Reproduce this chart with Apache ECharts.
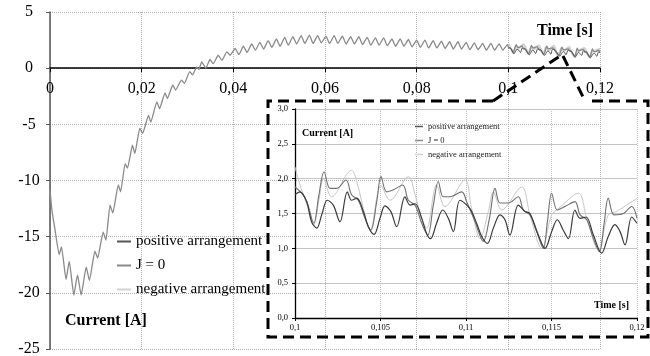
<!DOCTYPE html>
<html>
<head>
<meta charset="utf-8">
<script src="https://cdn.jsdelivr.net/npm/echarts@6/dist/echarts.min.js"></script>
<style>
html, body { margin: 0; padding: 0; background: #fff; }
#chart { width: 650px; height: 356px; }
</style>
</head>
<body>
<div id="chart"></div>
<script>
// series names, in legend order
var names = ['positive arrangement', 'J = 0', 'negative arrangement'];

// J = 0, start-up part (time [s], current [A])
var j0Start = [
    [0, -10.8], [0.0004, -12.6], [0.0011, -14.4], [0.002, -16.6], [0.0025, -15.9],
    [0.0035, -18.8], [0.0042, -17.2], [0.0052, -20.2], [0.006, -18.4], [0.0068, -20.2],
    [0.0079, -17.7], [0.0086, -18.9], [0.0098, -16.3], [0.0104, -16.9], [0.0116, -14.6],
    [0.0122, -15.3], [0.0131, -12.2], [0.0137, -12.9], [0.0149, -10.4], [0.0154, -11.0],
    [0.0164, -8.5], [0.0169, -8.9], [0.018, -6.85], [0.0185, -7.6], [0.0196, -5.35],
    [0.0202, -5.8], [0.0215, -4.2], [0.022, -4.8], [0.0233, -3.0], [0.0239, -3.6],
    [0.0251, -2.2], [0.0256, -2.7], [0.0268, -1.5], [0.0274, -1.95], [0.0287, -1.07],
    [0.0293, -1.35], [0.0305, -0.3], [0.0311, -0.6], [0.032, 0.1], [0.0325, -0.1],
    [0.0331, 0.56], [0.034, 0.0], [0.0349, 0.77], [0.0356, 0.4], [0.0367, 1.15],
    [0.0375, 0.7], [0.0386, 1.45], [0.0393, 1.15], [0.0404, 1.75], [0.0412, 1.2],
    [0.0422, 1.95], [0.043, 1.4], [0.044, 2.15], [0.0448, 1.6], [0.0458, 2.3],
    [0.0466, 1.7], [0.0476, 2.45], [0.0484, 1.85], [0.0494, 2.6], [0.0502, 1.95],
    [0.0512, 2.75], [0.052, 2.05], [0.053, 2.8], [0.0538, 2.15], [0.0548, 2.9],
    [0.0556, 2.2], [0.0566, 2.95], [0.0574, 2.2], [0.0584, 2.9], [0.0592, 2.25],
    [0.0602, 2.85], [0.061, 2.2], [0.062, 2.9], [0.0628, 2.2], [0.0638, 2.85],
    [0.0646, 2.15], [0.0656, 2.8], [0.0664, 2.15], [0.0674, 2.8], [0.0682, 2.1],
    [0.0692, 2.75], [0.07, 2.05], [0.071, 2.7], [0.0718, 2.05], [0.0728, 2.7],
    [0.0736, 2.0], [0.0746, 2.6], [0.0754, 1.95], [0.0764, 2.6], [0.0772, 1.95],
    [0.0782, 2.55], [0.079, 1.9], [0.08, 2.5], [0.0808, 1.85], [0.0818, 2.5],
    [0.0826, 1.8], [0.0836, 2.45], [0.0844, 1.8], [0.0854, 2.4], [0.0862, 1.75],
    [0.0872, 2.35], [0.088, 1.7], [0.089, 2.35], [0.0898, 1.7], [0.0908, 2.3],
    [0.0916, 1.65], [0.0926, 2.25], [0.0934, 1.65], [0.0944, 2.2], [0.0952, 1.6],
    [0.0962, 2.2], [0.097, 1.6], [0.098, 2.15], [0.0988, 1.6], [0.0998, 2.1]
];

// zoomed window 0.1 .. 0.12 s
var j0Zoom = [
    [0.1, 1.88], [0.1004, 1.79], [0.1007, 1.67], [0.1011, 1.36], [0.1014, 1.77],
    [0.1017, 2.1], [0.10205, 1.86], [0.10244, 1.86], [0.10298, 1.98], [0.10331, 1.77],
    [0.1037, 1.69], [0.10409, 1.43], [0.10443, 1.26], [0.10478, 1.67], [0.10503, 2.03],
    [0.10536, 1.81], [0.10575, 1.84], [0.1063, 1.91], [0.10663, 1.69], [0.10702, 1.62],
    [0.10741, 1.36], [0.10776, 1.19], [0.10809, 1.62], [0.10838, 1.96], [0.10867, 1.74],
    [0.10906, 1.74], [0.10975, 1.81], [0.11004, 1.67], [0.11053, 1.38], [0.11101, 1.10],
    [0.11137, 1.43], [0.1117, 1.86], [0.11199, 1.65], [0.11248, 1.65], [0.11306, 1.74],
    [0.11335, 1.55], [0.11374, 1.48], [0.11413, 1.24], [0.11452, 1.0], [0.11476, 1.38],
    [0.11501, 1.79], [0.11534, 1.55], [0.11579, 1.6], [0.11637, 1.67], [0.11667, 1.48],
    [0.11706, 1.41], [0.11745, 1.14], [0.1178, 0.95], [0.11807, 1.34], [0.11832, 1.72],
    [0.11866, 1.48], [0.1192, 1.5], [0.11969, 1.6], [0.12, 1.43]
];

var posZoom = [
    [0.1, 1.77], [0.10029, 1.81], [0.10068, 1.67], [0.10097, 1.38], [0.10127, 1.29],
    [0.10156, 1.48], [0.10189, 1.69], [0.10224, 1.62], [0.10263, 1.38], [0.10306, 1.81],
    [0.10331, 1.69], [0.10361, 1.72], [0.104, 1.53], [0.10429, 1.31], [0.10462, 1.2],
    [0.10497, 1.43], [0.10526, 1.61], [0.1056, 1.53], [0.10595, 1.31], [0.10643, 1.74],
    [0.10673, 1.62], [0.10702, 1.64], [0.10741, 1.43], [0.1077, 1.21], [0.10793, 1.14],
    [0.10828, 1.36], [0.10864, 1.55], [0.10897, 1.43], [0.10926, 1.24], [0.10965, 1.69],
    [0.11023, 1.57], [0.11062, 1.36], [0.11092, 1.17], [0.11125, 1.07], [0.1116, 1.29],
    [0.11199, 1.48], [0.11228, 1.41], [0.11257, 1.19], [0.11306, 1.62], [0.11345, 1.53],
    [0.11374, 1.50], [0.11423, 1.19], [0.11462, 1.0], [0.11501, 1.24], [0.11534, 1.41],
    [0.11569, 1.26], [0.11599, 1.14], [0.11637, 1.55], [0.11667, 1.43], [0.11702, 1.45],
    [0.11745, 1.19], [0.11793, 0.93], [0.11832, 1.17], [0.11871, 1.34], [0.11901, 1.24],
    [0.1193, 1.05], [0.11969, 1.45], [0.12, 1.36]
];

var negZoom = [
    [0.1, 2.17], [0.10029, 1.91], [0.10078, 1.57], [0.10107, 1.33], [0.10142, 1.72],
    [0.10166, 2.0], [0.10214, 1.74], [0.10331, 2.12], [0.10361, 1.96], [0.104, 1.57],
    [0.10439, 1.26], [0.10503, 1.9], [0.10556, 1.69], [0.10663, 2.03], [0.10702, 1.77],
    [0.10741, 1.43], [0.1077, 1.29], [0.10828, 1.91], [0.10877, 1.6], [0.10994, 1.98],
    [0.11033, 1.57], [0.11082, 1.14], [0.11131, 1.53], [0.1116, 1.81], [0.11209, 1.55],
    [0.11326, 1.88], [0.11374, 1.48], [0.11443, 1.0], [0.11501, 1.48], [0.1154, 1.57],
    [0.11657, 1.79], [0.11706, 1.43], [0.11774, 0.98], [0.11832, 1.48], [0.11881, 1.53],
    [0.12, 1.72]
];

var serif = 'Liberation Serif';

function commaNum(v, digits) {
    if (v === 0) return '0';
    return String(+v.toFixed(digits)).replace('.', ',');
}

function lineSeries(name, data, color, width, axis, smooth, z) {
    return {
        name: name,
        type: 'line',
        xAxisIndex: axis,
        yAxisIndex: axis,
        data: data,
        showSymbol: false,
        symbol: 'none',
        smooth: smooth,
        z: z,
        itemStyle: { color: color, borderWidth: 0 },
        lineStyle: { color: color, width: width }
    };
}

var myChart = echarts.init(document.getElementById('chart'), null, { renderer: 'canvas' });

// main plot is 12..349 px high for 5..-25, so the zero line sits at 12 + 337/6
var zeroY = 12 + 337 * 5 / 30;

var option = {
    animation: false,
    backgroundColor: '#fff',
    grid: [
        { left: 50, right: 50, top: 12, bottom: 7, outerBoundsMode: 'none', containLabel: false },
        { left: 295, right: 13, top: 109, bottom: 38, outerBoundsMode: 'none', containLabel: false },
        // helper grid whose bottom edge is the zero line: carries the time axis
        { left: 50, right: 50, top: 12, bottom: 356 - zeroY, outerBoundsMode: 'none', containLabel: false }
    ],
    xAxis: [
        {
            gridIndex: 0, type: 'value', min: 0, max: 0.12, interval: 0.02,
            axisLine: { show: false }, axisTick: { show: false }, axisLabel: { show: false },
            splitLine: { show: true, lineStyle: { color: '#b0b0b0', type: 'dotted', width: 1 } }
        },
        {
            gridIndex: 1, type: 'value', min: 0.1, max: 0.12, interval: 0.005,
            axisLine: { onZero: false, lineStyle: { color: '#000', width: 1.3 } },
            axisTick: { show: true, length: 3, lineStyle: { color: '#000' } },
            axisLabel: {
                fontFamily: serif, fontSize: 8.5, color: '#000', margin: 5,
                formatter: function (v) { return commaNum(v, 4); }
            },
            splitLine: { show: true, lineStyle: { color: '#c0c0c0', type: 'dotted', width: 1 } }
        },
        {
            gridIndex: 2, type: 'value', min: 0, max: 0.12, interval: 0.02,
            axisLine: { onZero: false, lineStyle: { color: '#000', width: 1.5 } },
            axisTick: { show: true, length: 4, lineStyle: { color: '#000' } },
            axisLabel: {
                fontFamily: serif, fontSize: 16, color: '#000', margin: 13,
                formatter: function (v) { return commaNum(v, 3); }
            },
            splitLine: { show: false }
        }
    ],
    yAxis: [
        {
            gridIndex: 0, type: 'value', min: -25, max: 5, interval: 5,
            axisLine: { show: true, onZero: false, lineStyle: { color: '#555', width: 1.5 } },
            axisTick: { show: true, length: 4, lineStyle: { color: '#555' } },
            axisLabel: { fontFamily: serif, fontSize: 16, color: '#000', margin: 21, align: 'center' },
            splitLine: { show: true, lineStyle: { color: '#b0b0b0', type: 'dotted', width: 1 } }
        },
        {
            gridIndex: 1, type: 'value', min: 0, max: 3, interval: 0.5,
            axisLine: { show: true, onZero: false, lineStyle: { color: '#000', width: 1.3 } },
            axisTick: { show: true, length: 3, lineStyle: { color: '#000' } },
            axisLabel: {
                fontFamily: serif, fontSize: 8.5, color: '#000', margin: 7,
                formatter: function (v) { return v.toFixed(1).replace('.', ','); }
            },
            splitLine: { show: true, lineStyle: { color: '#c4c4c4', width: 1 } }
        },
        {
            gridIndex: 2, type: 'value', min: 0, max: 1, show: false
        }
    ],
    legend: [
        {
            data: names, orient: 'vertical', left: 117, top: 234, itemGap: 9, padding: 0,
            itemWidth: 14, itemHeight: 2, icon: 'rect', selectedMode: false,
            itemStyle: { borderWidth: 0 },
            textStyle: { fontFamily: serif, fontSize: 15, color: '#000' }
        },
        {
            data: names, orient: 'vertical', left: 415, top: 122, itemGap: 5, padding: 0,
            itemWidth: 8, itemHeight: 1.5, icon: 'rect', selectedMode: false,
            itemStyle: { borderWidth: 0 },
            textStyle: { fontFamily: serif, fontSize: 8.5, color: '#222' }
        }
    ],
    series: [
        lineSeries(names[2], negZoom, '#d2d2d2', 2.2, 0, 0.3, 2),
        lineSeries(names[1], j0Start.concat(j0Zoom), '#8a8a8a', 1.3, 0, 0.15, 3),
        lineSeries(names[0], posZoom, '#555555', 1, 0, 0.3, 4),
        lineSeries(names[2], negZoom, '#c6c6c6', 1, 1, 0.35, 2),
        lineSeries(names[1], j0Zoom, '#707070', 1.1, 1, 0.35, 3),
        lineSeries(names[0], posZoom, '#3a3a3a', 1.2, 1, 0.35, 4)
    ],
    graphic: [
        { type: 'text', left: 537, top: 23, style: { text: 'Time [s]', font: 'bold 16px "Liberation Serif"', fill: '#000' } },
        { type: 'text', left: 65, top: 313, style: { text: 'Current [A]', font: 'bold 16px "Liberation Serif"', fill: '#000' } },
        { type: 'text', left: 302, top: 128, style: { text: 'Current [A]', font: 'bold 10px "Liberation Serif"', fill: '#000' } },
        { type: 'text', left: 594, top: 300, style: { text: 'Time [s]', font: 'bold 10px "Liberation Serif"', fill: '#000' } },
        // dashed zoom frame and the two pointer lines
        {
            type: 'polyline', z: 100,
            shape: { points: [[493, 101], [268, 101], [268, 337], [648, 337], [648, 101], [586, 101]] },
            style: { stroke: '#000', lineWidth: 3, lineDash: [11, 6], fill: null }
        },
        {
            type: 'line', z: 100,
            shape: { x1: 493, y1: 101, x2: 560, y2: 56 },
            style: { stroke: '#000', lineWidth: 3, lineDash: [11, 6] }
        },
        {
            type: 'line', z: 100,
            shape: { x1: 563, y1: 56, x2: 585, y2: 101 },
            style: { stroke: '#000', lineWidth: 3, lineDash: [11, 6] }
        }
    ]
};

myChart.setOption(option);
</script>
</body>
</html>
